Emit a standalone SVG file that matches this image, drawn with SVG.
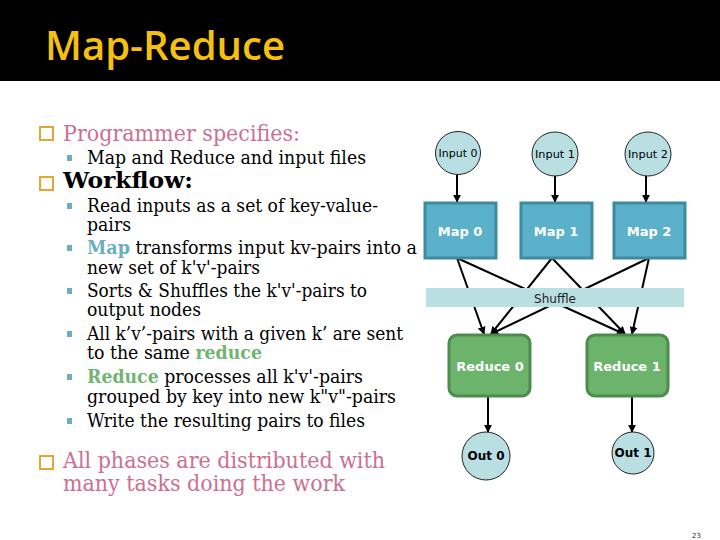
<svg xmlns="http://www.w3.org/2000/svg" width="720" height="540" viewBox="0 0 720 540">
<style>
.body{font-family:"DejaVu Serif","Liberation Serif",serif;font-size:18px;fill:#000}
.l1{font-family:"DejaVu Serif","Liberation Serif",serif;font-size:22px}
.pink{fill:#cc7090}
.box{fill:none;stroke:#e0a830;stroke-width:2}
.sb{fill:#6aaec0}
.lbl{font-family:"DejaVu Sans","Liberation Sans",sans-serif;font-size:12px;text-anchor:middle}
.sm{font-size:11px}
.wb{fill:#fff;font-weight:600;font-size:13px}
.circ{fill:#b9dfe3;stroke:#222;stroke-width:1}
.map{fill:#5bb0ca;stroke:#3e8aa1;stroke-width:3}
.red{fill:#6cb46c;stroke:#4c8c4c;stroke-width:3}
.conn{stroke:#000;stroke-width:2;fill:none;marker-end:url(#ah)}
</style>
<defs>
<marker id="ah" viewBox="0 0 10 10" refX="9" refY="5" markerWidth="4" markerHeight="4" orient="auto" markerUnits="strokeWidth">
<path d="M0,0 L10,5 L0,10 z" fill="#000"/>
</marker>
</defs>
<rect x="0" y="0" width="720" height="540" fill="#fff"/>
<rect x="0" y="0" width="720" height="81" fill="#000"/>
<text x="45" y="60" font-family="'Open Sans','Noto Sans',sans-serif" font-weight="600" font-size="40" fill="#f5c010" textLength="240" lengthAdjust="spacingAndGlyphs">Map-Reduce</text>

<g id="bullets">
<rect class="box" x="40" y="127" width="13" height="13"/>
<text class="l1 pink" x="63" y="141" textLength="237" lengthAdjust="spacingAndGlyphs">Programmer specifies:</text>
<rect class="sb" x="67" y="155" width="5" height="6"/>
<text class="body" x="87" y="164" textLength="279" lengthAdjust="spacingAndGlyphs">Map and Reduce and input files</text>
<rect class="box" x="40" y="177" width="13" height="13"/>
<text class="l1" x="63" y="188" font-weight="bold" textLength="130" lengthAdjust="spacingAndGlyphs">Workflow:</text>
<rect class="sb" x="67" y="203" width="5" height="6"/>
<text class="body" x="87" y="212" textLength="291" lengthAdjust="spacingAndGlyphs">Read inputs as a set of key-value-</text>
<text class="body" x="87" y="231" textLength="44" lengthAdjust="spacingAndGlyphs">pairs</text>
<rect class="sb" x="67" y="245" width="5" height="6"/>
<text class="body" x="87" y="254" textLength="330" lengthAdjust="spacingAndGlyphs"><tspan fill="#6aaec0" font-weight="bold">Map</tspan> transforms input kv-pairs into a</text>
<text class="body" x="87" y="274" textLength="173" lengthAdjust="spacingAndGlyphs">new set of k'v'-pairs</text>
<rect class="sb" x="67" y="288" width="5" height="6"/>
<text class="body" x="87" y="297" textLength="280" lengthAdjust="spacingAndGlyphs">Sorts &amp; Shuffles the k'v'-pairs to</text>
<text class="body" x="87" y="316" textLength="114" lengthAdjust="spacingAndGlyphs">output nodes</text>
<rect class="sb" x="67" y="331" width="5" height="6"/>
<text class="body" x="87" y="340" textLength="316" lengthAdjust="spacingAndGlyphs">All k’v’-pairs with a given k’ are sent</text>
<text class="body" x="87" y="359" textLength="175" lengthAdjust="spacingAndGlyphs">to the same <tspan fill="#72b472" font-weight="bold">reduce</tspan></text>
<rect class="sb" x="67" y="374" width="5" height="6"/>
<text class="body" x="87" y="383" textLength="276" lengthAdjust="spacingAndGlyphs"><tspan fill="#72b472" font-weight="bold">Reduce</tspan> processes all k'v'-pairs</text>
<text class="body" x="87" y="403" textLength="309" lengthAdjust="spacingAndGlyphs">grouped by key into new k"v"-pairs</text>
<rect class="sb" x="67" y="418" width="5" height="6"/>
<text class="body" x="87" y="427" textLength="278" lengthAdjust="spacingAndGlyphs">Write the resulting pairs to files</text>
<rect class="box" x="40" y="456" width="13" height="13"/>
<text class="l1 pink" x="63" y="468" textLength="322" lengthAdjust="spacingAndGlyphs">All phases are distributed with</text>
<text class="l1 pink" x="63" y="491" textLength="282" lengthAdjust="spacingAndGlyphs">many tasks doing the work</text>
</g>

<g id="connectors">
<line class="conn" x1="457" y1="175" x2="457" y2="202"/>
<line class="conn" x1="555" y1="176" x2="555" y2="202"/>
<line class="conn" x1="646" y1="176" x2="646" y2="202"/>
<line class="conn" x1="457" y1="258" x2="484" y2="334"/>
<line class="conn" x1="457" y1="258" x2="624" y2="334"/>
<line class="conn" x1="552" y1="258" x2="491" y2="334"/>
<line class="conn" x1="552" y1="258" x2="625" y2="334"/>
<line class="conn" x1="649" y1="258" x2="491" y2="334"/>
<line class="conn" x1="649" y1="258" x2="632" y2="334"/>
<line class="conn" x1="488" y1="397" x2="488" y2="432"/>
<line class="conn" x1="632" y1="397" x2="632" y2="432"/>
</g>

<g id="input0"><ellipse class="circ" cx="458" cy="153" rx="22.5" ry="21.5"/><text class="lbl sm" x="458" y="157" textLength="39" lengthAdjust="spacingAndGlyphs">Input 0</text></g>
<g id="input1"><ellipse class="circ" cx="555" cy="154" rx="23" ry="22"/><text class="lbl sm" x="555" y="158" textLength="40" lengthAdjust="spacingAndGlyphs">Input 1</text></g>
<g id="input2"><ellipse class="circ" cx="648" cy="154" rx="23" ry="22"/><text class="lbl sm" x="648" y="158" textLength="40" lengthAdjust="spacingAndGlyphs">Input 2</text></g>

<g id="map0"><rect class="map" x="425" y="203" width="71" height="55"/><text class="lbl wb" x="460" y="236">Map 0</text></g>
<g id="map1"><rect class="map" x="521" y="203" width="71" height="55"/><text class="lbl wb" x="556" y="236">Map 1</text></g>
<g id="map2"><rect class="map" x="614" y="203" width="71" height="55"/><text class="lbl wb" x="649" y="236">Map 2</text></g>

<g id="shuffle"><rect x="426" y="288" width="258" height="19" fill="#b9dfe3"/><text class="lbl" x="555" y="303" font-size="15" fill="#222">Shuffle</text></g>

<g id="reduce0"><rect class="red" x="449" y="335" width="81" height="61" rx="8"/><text class="lbl wb" x="490" y="371">Reduce 0</text></g>
<g id="reduce1"><rect class="red" x="587" y="335" width="81" height="61" rx="8"/><text class="lbl wb" x="627" y="371">Reduce 1</text></g>

<g id="out0"><circle class="circ" cx="486" cy="456" r="24"/><text class="lbl" x="486" y="460" font-weight="600">Out 0</text></g>
<g id="out1"><circle class="circ" cx="633" cy="453" r="21"/><text class="lbl" x="633" y="457" font-weight="600">Out 1</text></g>

<text x="692" y="538" font-family="'DejaVu Sans',sans-serif" font-size="7" fill="#333">23</text>
</svg>
